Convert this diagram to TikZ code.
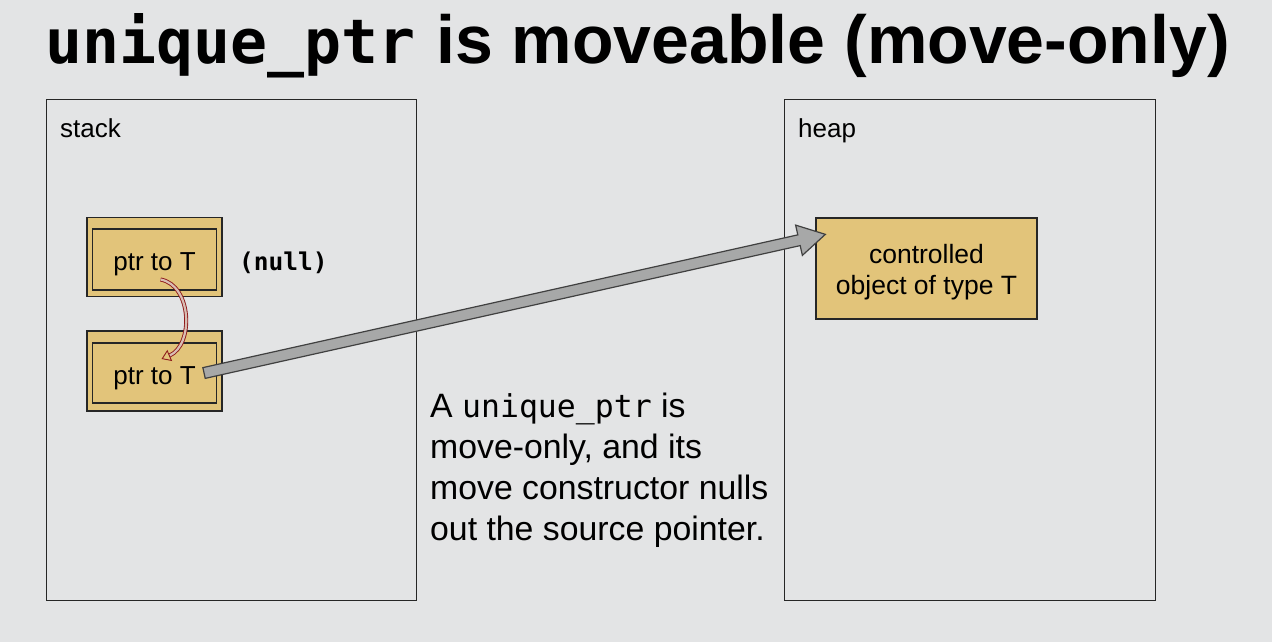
\documentclass[tikz,border=0pt]{standalone}
\usepackage{fontspec}
\setmainfont{Liberation Sans}
\setmonofont{DejaVu Sans Mono}
\usetikzlibrary{calc,arrows.meta}
\definecolor{bg}{HTML}{E3E4E5}
\definecolor{tanfill}{HTML}{E2C47A}
\definecolor{arrowgray}{HTML}{A7A8A8}
\definecolor{darkred}{HTML}{8E1B1B}
\definecolor{pinkish}{HTML}{D9BDB3}
\begin{document}
\begin{tikzpicture}[x=1pt,y=-1pt,
  region/.style={draw=black!85, line width=1.3pt, fill=bg, inner sep=0, anchor=north west},
  lbl/.style={anchor=base west, inner sep=0, font=\fontsize{26}{30}\selectfont},
  outerbox/.style={draw=black!85, line width=1.3pt, fill=tanfill, inner sep=0},
  innerbox/.style={draw=black!85, line width=1.1pt, fill=tanfill, inner sep=0, minimum width=124pt, minimum height=61pt},
  ptrtext/.style={inner sep=0, font=\fontsize{26}{30}\selectfont},
  bigarrow/.style={draw=black!75, line width=1.2pt, fill=arrowgray, line join=miter},
  movearrow/.style={draw=darkred, line width=0.9pt, double=pinkish, double distance=2.2pt, -{Triangle[open, length=9pt, width=12pt]}}
]
\fill[bg] (0,0) rectangle (1272,642);
\useasboundingbox (0,0) rectangle (1272,642);

% title
\node[anchor=base west, inner sep=0, font=\fontsize{68}{80}\selectfont\bfseries] (title) at (45,64)
  {{\fontsize{61.5}{70}\selectfont\ttfamily unique\_ptr}\hspace{2pt} is moveable (move-only)};

% regions
\node[region, minimum width=370pt, minimum height=501pt] (stack) at (46,99) {};
\node[region, minimum width=371pt, minimum height=501pt] (heap) at (784,99) {};
\node[lbl] (stacklbl) at (60,137) {stack};
\node[lbl] (heaplbl) at (798,137) {heap};

% pointer boxes
\node[outerbox, minimum width=135pt, minimum height=79pt] (p1o) at (154.5,257) {};
\node[innerbox] (p1) at (154.5,259.5) {};
\node[ptrtext, anchor=base] (p1t) at (154.5,270) {ptr to T};
\node[outerbox, minimum width=135pt, minimum height=80pt] (p2o) at (154.5,371) {};
\node[innerbox, minimum height=60pt] (p2) at (154.5,373) {};
\node[ptrtext, anchor=base] (p2t) at (154.5,384) {ptr to T};
\node[anchor=west, inner sep=0, font=\fontsize{24.5}{28}\selectfont\ttfamily\bfseries] (null) at (239,263) {(null)};

% controlled object
\node[outerbox, minimum width=221pt, minimum height=101pt] (obj) at (926.5,268.5) {};
\node[inner sep=0, align=center, font=\fontsize{26.5}{31}\selectfont, anchor=north] (objt) at (926.5,244)
  {controlled\\object of type T};

% caption
\node[anchor=north west, inner sep=0, align=left, font=\fontsize{33.8}{41}\selectfont] (cap) at (430,393)
  {A {\fontsize{31.5}{41}\selectfont\ttfamily unique\_ptr} is\\move-only, and its\\move constructor nulls\\out the source pointer.};

% big arrow from p2 to obj
\coordinate (s) at ($(p2.east)+(-13,0)$);
\coordinate (e) at ($(obj.north west)+(10,17)$);
\coordinate (h) at ($(e)!27pt!(s)$);
\filldraw[bigarrow]
  ($(s)!5.5pt!90:(e)$) -- ($(h)!5.5pt!-90:(s)$) -- ($(h)!15.5pt!-90:(s)$) -- (e)
  -- ($(h)!15.5pt!90:(s)$) -- ($(h)!5.5pt!90:(s)$) -- ($(s)!5.5pt!-90:(e)$) -- cycle;

% move arrow from p1 to p2
\coordinate (ra) at ($(p1.center)+(6,20)$);
\coordinate (rb) at ($(p2.center)+(7,-14)$);
\draw[movearrow] (ra) .. controls (192,285) and (194,345) .. (rb);
\end{tikzpicture}
\end{document}
